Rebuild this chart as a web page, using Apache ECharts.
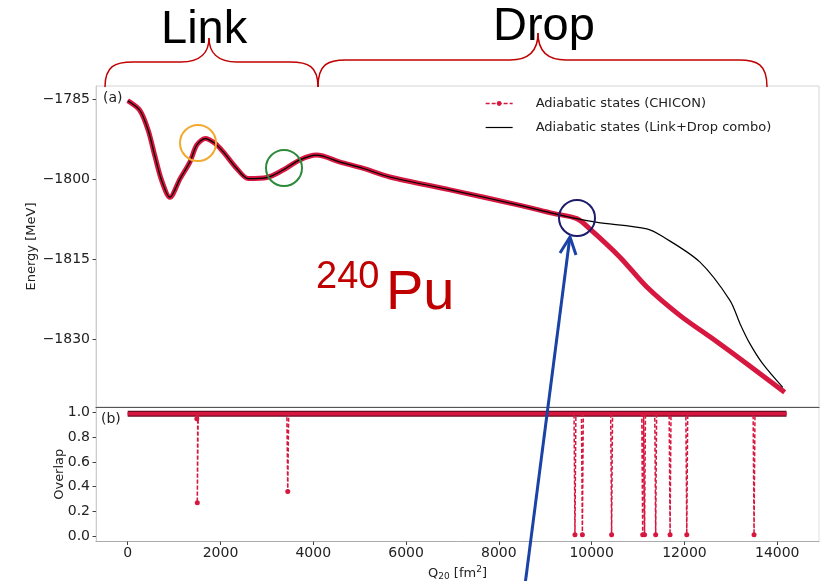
<!DOCTYPE html>
<html>
<head>
<meta charset="utf-8">
<script src="https://cdn.jsdelivr.net/npm/echarts@6/dist/echarts.min.js"></script>
<style>
html, body { margin: 0; padding: 0; background: #fff; }
#chart { width: 831px; height: 581px; }
</style>
</head>
<body>
<div id="chart"></div>
<script>
// energy curve, part shared by both calculations (Q20 in fm^2, E in MeV)
var qShared = [0, 260, 440, 590, 730, 910, 1130, 1340, 1490, 1670, 1880, 2060, 2350, 2600, 3000,
    3350, 3710, 4070, 4580, 5080, 5650, 6950, 8455, 9170, 9680];
var eShared = [-1785.3, -1787.1, -1790.8, -1795.8, -1800.2, -1803.4, -1799.9, -1796.8, -1793.6, -1792.4,
    -1793.3, -1794.9, -1798.0, -1799.9, -1799.7, -1798.3, -1796.4, -1795.5, -1796.8, -1798.0, -1799.6,
    -1802.0, -1804.9, -1806.4, -1807.4];

// after the split
var qChicon = [9960, 10610, 11190, 11900, 12610, 13350, 14160];
var eChicon = [-1809.3, -1814.6, -1820.2, -1825.5, -1829.9, -1834.6, -1839.9];
var qCombo = [10120, 11190, 11540, 12330, 12980, 13200, 13410, 13690, 14120];
var eCombo = [-1808.1, -1809.3, -1810.8, -1815.5, -1822.7, -1827.1, -1830.8, -1834.6, -1839.0];

// overlap panel
var overlapBase = 0.99;
var overlapRange = [0, 14200];
var dipQ = [1490, 1500, 3450, 9640, 9800, 10430, 11100, 11140, 11380, 11690, 12050, 13500];
var dipVal = [0.95, 0.27, 0.36, 0.01, 0.01, 0.01, 0.01, 0.01, 0.01, 0.01, 0.01, 0.01];

var energyTicks = [-1785, -1800, -1815, -1830];
var overlapTicks = [0, 0.2, 0.4, 0.6, 0.8, 1.0];
var qTicks = [0, 2000, 4000, 6000, 8000, 10000, 12000, 14000];

var RED = '#d6173f';
var FONT = 'DejaVu Sans';

function pairs(q, e) {
    return q.map(function (v, i) { return [v, e[i]]; });
}

//overlap drops: down to the point and straight back up
function dipData() {
    var out = [[overlapRange[0], overlapBase]];
    for (var i = 0; i < dipQ.length; i++) {
        out.push([dipQ[i] - 20, overlapBase]);
        out.push({ value: [dipQ[i], dipVal[i]], symbol: 'circle', symbolSize: 5 });
        out.push([dipQ[i] + 20, overlapBase]);
    }
    out.push([overlapRange[1], overlapBase]);
    return out;
}

function minusSign(v) {
    return String(v).replace('-', '\u2212');
}

// curly brace over the plot, from x0 to x1 with the tip at xm
function brace(x0, xm, x1, yBase, yLine, yTip) {
    var st = { stroke: '#c00000', lineWidth: 1.5, fill: null };
    var r = 28;
    return [
        { type: 'bezierCurve', shape: { x1: x0, y1: yBase, cpx1: x0, cpy1: yLine + 4, cpx2: x0 + 10, cpy2: yLine, x2: x0 + r, y2: yLine }, style: st },
        { type: 'line', shape: { x1: x0 + r, y1: yLine, x2: xm - r, y2: yLine }, style: st },
        { type: 'bezierCurve', shape: { x1: xm - r, y1: yLine, cpx1: xm - 8, cpy1: yLine, cpx2: xm, cpy2: yLine - 10, x2: xm, y2: yTip }, style: st },
        { type: 'bezierCurve', shape: { x1: xm, y1: yTip, cpx1: xm, cpy1: yLine - 10, cpx2: xm + 8, cpy2: yLine, x2: xm + r, y2: yLine }, style: st },
        { type: 'line', shape: { x1: xm + r, y1: yLine, x2: x1 - r, y2: yLine }, style: st },
        { type: 'bezierCurve', shape: { x1: x1 - r, y1: yLine, cpx1: x1 - 10, cpy1: yLine, cpx2: x1, cpy2: yLine + 4, x2: x1, y2: yBase }, style: st }
    ];
}

function ring(cx, cy, color) {
    return { type: 'circle', z: 100, shape: { cx: cx, cy: cy, r: 18 }, style: { stroke: color, lineWidth: 2, fill: null } };
}

var graphics = []
    .concat(brace(105, 209, 318, 87, 62, 38))
    .concat(brace(318, 538, 767, 87, 60, 33))
    .concat([
        { type: 'text', left: 161, top: 7, style: { text: 'Link', font: '47px "Liberation Sans"', fill: '#000' } },
        { type: 'text', left: 493, top: 4, style: { text: 'Drop', font: '47px "Liberation Sans"', fill: '#000' } },
        { type: 'text', left: 316, top: 259, z: 100, style: { text: '240', font: '38px "Liberation Sans"', fill: '#c00000' } },
        { type: 'text', left: 386, top: 266, z: 100, style: { text: 'Pu', font: '56px "Liberation Sans"', fill: '#c00000' } },
        { type: 'text', left: 103, top: 91, style: { text: '(a)', font: '14px "DejaVu Sans"', fill: '#222' } },
        { type: 'text', left: 101, top: 412, style: { text: '(b)', font: '14px "DejaVu Sans"', fill: '#222' } },
        ring(198, 143, '#f2a92e'),
        ring(284, 168, '#2f8a3c'),
        ring(577, 218, '#1c1a6b'),
        { type: 'line', z: 110, shape: { x1: 525, y1: 585, x2: 569.5, y2: 240 }, style: { stroke: '#1b43a6', lineWidth: 3 } },
        { type: 'polyline', z: 110, shape: { points: [[560, 253], [570, 237], [576, 255]] }, style: { stroke: '#1b43a6', lineWidth: 3, fill: null } }
    ]);

var chart = echarts.init(document.getElementById('chart'));

var option = {
    animation: false,
    backgroundColor: '#fff',
    textStyle: { fontFamily: FONT },
    legend: {
        orient: 'vertical',
        left: 485,
        top: 97,
        padding: 0,
        itemWidth: 27,
        itemHeight: 6,
        itemGap: 11,
        textStyle: { fontSize: 13, color: '#222', fontFamily: FONT, padding: [0, 0, 0, 18] },
        data: [
            { name: 'Adiabatic states (CHICON)', lineStyle: { type: [4, 2], width: 1.3, color: RED }, itemStyle: { color: RED, borderWidth: 0 } },
            { name: 'Adiabatic states (Link+Drop combo)', lineStyle: { width: 1.2, color: '#000', type: 'solid' }, itemStyle: { color: 'transparent', borderWidth: 0 } }
        ]
    },
    grid: [
        { left: 96, right: 12, top: 86, height: 321, outerBoundsMode: 'none', show: true, borderColor: '#d4d4d4', borderWidth: 1 },
        { left: 96, right: 12, top: 407, height: 134.5, outerBoundsMode: 'none', show: true, borderColor: '#e0e0e0', borderWidth: 1 }
    ],
    xAxis: [
        {
            gridIndex: 0, type: 'value', min: -683, max: 14900,
            axisLine: { lineStyle: { color: '#555', width: 1.2 } },
            axisTick: { show: false }, axisLabel: { show: false }, splitLine: { show: false }
        },
        {
            gridIndex: 1, type: 'value', min: -683, max: 14900,
            name: 'Q{sub|20} [fm{sup|2}]', nameLocation: 'middle', nameGap: 24, nameMoveOverlap: false,
            nameTextStyle: {
                fontSize: 13, color: '#222', lineHeight: 16,
                rich: {
                    sub: { fontSize: 9, verticalAlign: 'bottom', lineHeight: 12, color: '#222' },
                    sup: { fontSize: 9, verticalAlign: 'top', lineHeight: 12, color: '#222' }
                }
            },
            axisLine: { onZero: false, lineStyle: { color: '#aaa' } },
            axisTick: { customValues: qTicks, length: 3.5, lineStyle: { color: '#444' } },
            axisLabel: { customValues: qTicks, fontSize: 14, color: '#222', margin: 5, formatter: function (v) { return String(v); } },
            splitLine: { show: false }
        }
    ],
    yAxis: [
        {
            gridIndex: 0, type: 'value', min: -1842.66, max: -1782.56,
            name: 'Energy [MeV]', nameLocation: 'middle', nameGap: 58, nameMoveOverlap: false,
            nameTextStyle: { fontSize: 13, color: '#222' },
            axisLine: { show: true, onZero: false, lineStyle: { color: '#ccc' } },
            axisTick: { customValues: energyTicks, length: 3.5, lineStyle: { color: '#444' } },
            axisLabel: { customValues: energyTicks, fontSize: 14, color: '#222', margin: 6, formatter: minusSign },
            splitLine: { show: false }
        },
        {
            gridIndex: 1, type: 'value', min: -0.045, max: 1.045,
            name: 'Overlap', nameLocation: 'middle', nameGap: 30, nameMoveOverlap: false,
            nameTextStyle: { fontSize: 13, color: '#222' },
            axisLine: { show: true, onZero: false, lineStyle: { color: '#ccc' } },
            axisTick: { customValues: overlapTicks, length: 3.5, lineStyle: { color: '#444' } },
            axisLabel: { customValues: overlapTicks, fontSize: 14, color: '#222', margin: 6, formatter: function (v) { return v.toFixed(1); } },
            splitLine: { show: false }
        }
    ],
    series: [
        {
            name: 'Adiabatic states (CHICON)', type: 'line', xAxisIndex: 0, yAxisIndex: 0,
            data: pairs(qShared, eShared).concat(pairs(qChicon, eChicon)),
            smooth: 0.3, symbol: 'circle', showSymbol: false,
            lineStyle: { color: RED, width: 5 }, itemStyle: { color: RED }
        },
        {
            name: 'Adiabatic states (Link+Drop combo)', type: 'line', xAxisIndex: 0, yAxisIndex: 0,
            data: pairs(qShared, eShared).concat(pairs(qCombo, eCombo)),
            smooth: 0.3, symbol: 'none',
            lineStyle: { color: '#000', width: 1.2 }, itemStyle: { color: '#000' }
        },
        {
            name: 'overlap edge', type: 'line', xAxisIndex: 1, yAxisIndex: 1, symbol: 'none', silent: true,
            data: [[overlapRange[0], overlapBase], [overlapRange[1], overlapBase]],
            lineStyle: { color: '#6e0a20', width: 6 }
        },
        {
            name: 'overlap base', type: 'line', xAxisIndex: 1, yAxisIndex: 1, symbol: 'none', silent: true,
            data: [[overlapRange[0], overlapBase], [overlapRange[1], overlapBase]],
            lineStyle: { color: RED, width: 3.5 }
        },
        {
            name: 'overlap', type: 'line', xAxisIndex: 1, yAxisIndex: 1, symbol: 'none', showSymbol: true,
            data: dipData(),
            lineStyle: { color: RED, width: 1.5, type: [4, 2] }, itemStyle: { color: RED }
        }
    ],
    graphic: graphics
};

chart.setOption(option);
</script>
</body>
</html>
